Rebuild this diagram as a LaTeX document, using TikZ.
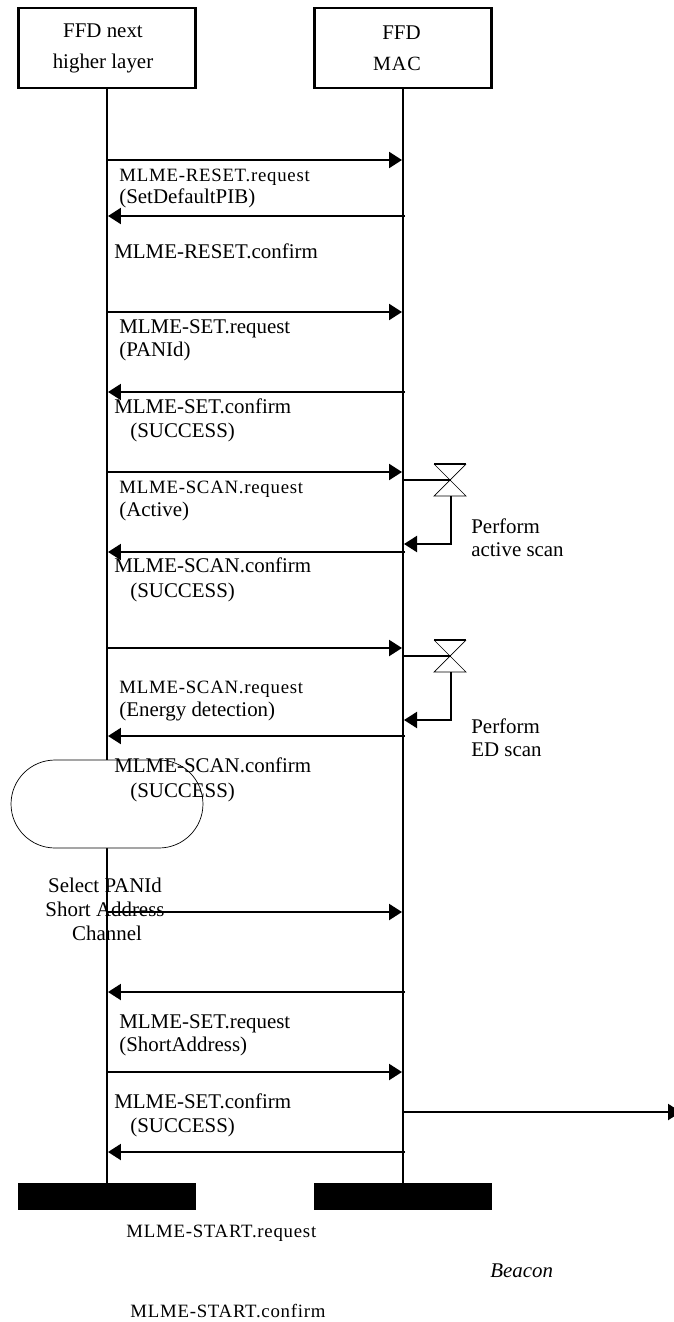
\documentclass[tikz,border=0pt]{standalone}
\usepackage{fontspec}
\setmainfont{Liberation Serif}
\newfontfamily\spacedfont[LetterSpace=4]{Liberation Serif}
\usetikzlibrary{arrows.meta}

\tikzset{
  layerbox/.style={draw, rectangle, line width=0.042cm, minimum width=3.54cm, minimum height=1.6cm, inner sep=0pt, align=center, font=\fontsize{11.9}{17.6}\selectfont},
  endbar/.style={draw, rectangle, fill=black, line width=0.02cm, minimum width=3.54cm, minimum height=0.52cm},
  lifeline/.style={line width=0.042cm},
  msg/.style={line width=0.046cm, -{Triangle[length=0.26cm, width=0.32cm]}},
  feed/.style={line width=0.042cm},
  lbl/.style={anchor=base west, inner sep=0pt, font=\fontsize{11.9}{14}\selectfont},
  lblsp/.style={anchor=base west, inner sep=0pt, font=\spacedfont\fontsize{10.7}{12}\selectfont},
  lblc/.style={anchor=base, inner sep=0pt, font=\fontsize{11.9}{14}\selectfont}
}

\begin{document}
\begin{tikzpicture}[x=0.02cm, y=-0.02cm]
    \useasboundingbox (0,0) rectangle (673,1322);

    % Layer boxes
    \node[layerbox] (nhl) at (107,48) {FFD next\hspace*{0.16cm}\\higher layer\hspace*{0.16cm}};
    \node[layerbox] (mac) at (403,48) {FFD\hspace*{0.06cm}\\{\spacedfont\fontsize{11.5}{12}\selectfont MAC}\hspace*{0.24cm}};
    \node[endbar] (nhlend) at (107,1196) {};
    \node[endbar] (macend) at (403,1196) {};

    % Lifelines
    \draw[lifeline] (nhl) -- (nhlend);
    \draw[lifeline, line width=0.03cm] (mac) -- (macend);

    % Select box
    \node[draw, rectangle, rounded corners=0.88cm, fill=white, line width=0.014cm, minimum width=3.84cm, minimum height=1.76cm] (sel) at (107,804) {};

    % Arrow ends
    \coordinate (n1) at (107,160);  \coordinate (m1) at (402,160);
    \coordinate (n2) at (108,216);  \coordinate (m2) at (405,216);
    \coordinate (n3) at (107,312);  \coordinate (m3) at (402,312);
    \coordinate (n4) at (108,392);  \coordinate (m4) at (405,392);
    \coordinate (n5) at (107,472);  \coordinate (m5) at (402,472);
    \coordinate (n6) at (108,552);  \coordinate (m6) at (405,552);
    \coordinate (n7) at (107,648);  \coordinate (m7) at (402,648);
    \coordinate (n8) at (108,736);  \coordinate (m8) at (405,736);
    \coordinate (n9) at (107,912);  \coordinate (m9) at (402,912);
    \coordinate (n10) at (108,992); \coordinate (m10) at (405,992);
    \coordinate (n11) at (107,1072); \coordinate (m11) at (402,1072);
    \coordinate (n12) at (108,1152); \coordinate (m12) at (405,1152);
    \coordinate (m13) at (403,1112); \coordinate (out) at (681,1112);

    % Arrows
    \draw[msg] (n1) -- (m1);
    \draw[msg] (m2) -- (n2);
    \draw[msg] (n3) -- (m3);
    \draw[msg] (m4) -- (n4);
    \draw[msg] (n5) -- (m5);
    \draw[msg] (m6) -- (n6);
    \draw[msg] (n7) -- (m7);
    \draw[msg] (m8) -- (n8);
    \draw[msg] (n9) -- (m9);
    \draw[msg] (m10) -- (n10);
    \draw[msg] (n11) -- (m11);
    \draw[msg] (m12) -- (n12);
    \draw[msg] (m13) -- (out);

    % Scan timers
    \coordinate (t1) at (451,480);
    \coordinate (t1b) at (451,496);
    \coordinate (r1) at (404,544);
    \draw[line width=0.014cm] (434,464) -- (466,496) -- (434,496) -- (466,464);
    \draw[line width=0.036cm] (434,464) -- (466,464);
    \draw[feed] (403,480) -- (t1);
    \draw[feed, -{Triangle[length=0.26cm, width=0.32cm]}] (t1b) |- (r1);

    \coordinate (t2) at (451,656);
    \coordinate (t2b) at (451,672);
    \coordinate (r2) at (404,720);
    \draw[line width=0.014cm] (434,640) -- (466,672) -- (434,672) -- (466,640);
    \draw[line width=0.036cm] (434,640) -- (466,640);
    \draw[feed] (403,656) -- (t2);
    \draw[feed, -{Triangle[length=0.26cm, width=0.32cm]}] (t2b) |- (r2);

    % Labels
    \node[lblsp] (l1) at (119,181) {MLME-RESET.request};
    \node[lbl] (l1a) at (119,203) {(SetDefaultPIB)};
    \node[lbl] (l2) at (114,258) {MLME-RESET.confirm};
    \node[lbl] (l3) at (119,333) {MLME-SET.request};
    \node[lbl] (l3a) at (119,356) {(PANId)};
    \node[lbl] (l4) at (114,413) {MLME-SET.confirm};
    \node[lbl] (l4a) at (130,437) {(SUCCESS)};
    \node[lblsp] (l5) at (119,493) {MLME-SCAN.request};
    \node[lbl] (l5a) at (119,516) {(Active)};
    \node[lbl] (l6) at (114,572) {MLME-SCAN.confirm};
    \node[lbl] (l6a) at (130,597) {(SUCCESS)};
    \node[lblsp] (l7) at (119,693) {MLME-SCAN.request};
    \node[lbl] (l7a) at (119,716) {(Energy detection)};
    \node[lbl] (l8) at (114,772) {MLME-SCAN.confirm};
    \node[lbl] (l8a) at (130,797) {(SUCCESS)};
    \node[lbl] (p1) at (471,533) {Perform};
    \node[lbl] (p1a) at (471,556) {active scan};
    \node[lbl] (p2) at (471,733) {Perform};
    \node[lbl] (p2a) at (471,756) {ED scan};
    \node[lblc] (s1) at (105,892) {Select PANId};
    \node[lblc] (s2) at (105,916) {Short Address};
    \node[lblc] (s3) at (107,940) {Channel};
    \node[lbl] (l9) at (119,1028) {MLME-SET.request};
    \node[lbl] (l9a) at (119,1051) {(ShortAddress)};
    \node[lbl] (l10) at (114,1108) {MLME-SET.confirm};
    \node[lbl] (l10a) at (130,1132) {(SUCCESS)};
    \node[lblsp] (l11) at (126,1237) {MLME-START.request};
    \node[lbl, font=\fontsize{11.9}{14}\selectfont\itshape] (bc) at (490,1277) {Beacon};
    \node[lblsp] (l12) at (130,1317) {MLME-START.confirm};
\end{tikzpicture}
\end{document}
